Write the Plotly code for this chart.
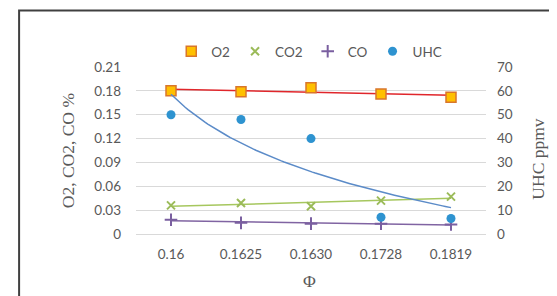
import numpy as np
import plotly.graph_objects as go

phi_labels = ["0.16", "0.1625", "0.1630", "0.1728", "0.1819"]
o2 = [0.180, 0.179, 0.184, 0.176, 0.172]
co2 = [0.036, 0.039, 0.035, 0.042, 0.047]
co = [0.018, 0.014, 0.013, 0.013, 0.012]
uhc = [50, 48, 40, 7, 6.5]
left_ticks = [0, 0.03, 0.06, 0.09, 0.12, 0.15, 0.18, 0.21]
left_tick_labels = ["0", "0.03", "0.06", "0.09", "0.12", "0.15", "0.18", "0.21"]

x = np.arange(1, len(phi_labels) + 1)
xs = np.linspace(1, len(phi_labels), 100)

def lin_fit(y):
    a, b = np.polyfit(x, y, 1)
    return a * xs + b

def log_fit(y):
    a, b = np.polyfit(np.log(x), y, 1)
    return a * np.log(xs) + b

tick_font = dict(family="Lato, Open Sans, sans-serif", size=13.5, color="#595959")
title_font = dict(family="Liberation Serif, DejaVu Serif, serif", size=17.5, color="#595959")

fig = go.Figure()
# trendlines
fig.add_trace(go.Scatter(x=xs, y=lin_fit(o2), mode="lines", line=dict(color="#E0262B", width=1.5),
                         showlegend=False, hoverinfo="skip"))
fig.add_trace(go.Scatter(x=xs, y=lin_fit(co2), mode="lines", line=dict(color="#A6C75E", width=1.5),
                         showlegend=False, hoverinfo="skip"))
fig.add_trace(go.Scatter(x=xs, y=lin_fit(co), mode="lines", line=dict(color="#8064A2", width=1.5),
                         showlegend=False, hoverinfo="skip"))
fig.add_trace(go.Scatter(x=xs, y=log_fit(uhc), mode="lines", line=dict(color="#5B8BC8", width=1.5),
                         showlegend=False, hoverinfo="skip", yaxis="y2"))

# data markers
fig.add_trace(go.Scatter(x=x, y=o2, mode="markers", name="O2",
                         marker=dict(symbol="square", size=10, color="#FFC000",
                                     line=dict(color="#D9762B", width=1.5))))
fig.add_trace(go.Scatter(x=x, y=co2, mode="markers", name="CO2",
                         marker=dict(symbol="x-thin", size=8, color="#9BBB59",
                                     line=dict(color="#9BBB59", width=2))))
fig.add_trace(go.Scatter(x=x, y=co, mode="markers", name="CO",
                         marker=dict(symbol="cross-thin", size=9, color="#7A5FA0",
                                     line=dict(color="#7A5FA0", width=2))))
fig.add_trace(go.Scatter(x=x, y=uhc, mode="markers", name="UHC", yaxis="y2",
                         marker=dict(symbol="circle", size=9, color="#2E93D0")))

fig.update_layout(
    width=557, height=296,
    margin=dict(l=128, r=79, t=59, b=70, autoexpand=False),
    paper_bgcolor="white", plot_bgcolor="white",
    showlegend=True,
    legend=dict(orientation="h", x=0.495, xanchor="center", y=1.0, yanchor="bottom",
                font=dict(family="Lato, Open Sans, sans-serif", size=13.5, color="#595959"),
                itemwidth=30, tracegroupgap=0, bgcolor="rgba(0,0,0,0)"),
    xaxis=dict(range=[0.5, len(phi_labels) + 0.5], tickmode="array", tickvals=list(x),
               ticktext=phi_labels, showgrid=False, zeroline=False,
               showline=True, linecolor="#D9D9D9", linewidth=1, ticks="",
               tickfont=tick_font, ticklabelstandoff=8, automargin=False),
    yaxis=dict(range=[0, 0.21], tickmode="array", tickvals=left_ticks, ticktext=left_tick_labels,
               showgrid=True, gridcolor="#D9D9D9", automargin=False,
               gridwidth=1, zeroline=False, tickfont=tick_font, ticks="", ticklabelstandoff=14),
    yaxis2=dict(range=[0, 70], dtick=10, overlaying="y", side="right", showgrid=False,
                automargin=False,
                zeroline=False, tickfont=tick_font, ticks="", ticklabelstandoff=10),
    annotations=[
        dict(text="O2, CO2, CO %", xref="paper", yref="paper", x=-0.195, y=0.5,
             xanchor="center", yanchor="middle", textangle=-90, showarrow=False, font=title_font),
        dict(text="UHC ppmv", xref="paper", yref="paper", x=1.148, y=0.45,
             xanchor="center", yanchor="middle", textangle=-90, showarrow=False, font=title_font),
        dict(text="Φ", xref="paper", yref="paper", x=0.497, y=-0.28,
             xanchor="center", yanchor="middle", showarrow=False, font=title_font),
    ],
    shapes=[dict(type="rect", xref="paper", yref="paper", x0=-0.334, x1=1.2, y0=-0.383, y1=1.338,
                 line=dict(color="#404040", width=2), fillcolor="rgba(0,0,0,0)")],
)

fig.write_html("out.html")
